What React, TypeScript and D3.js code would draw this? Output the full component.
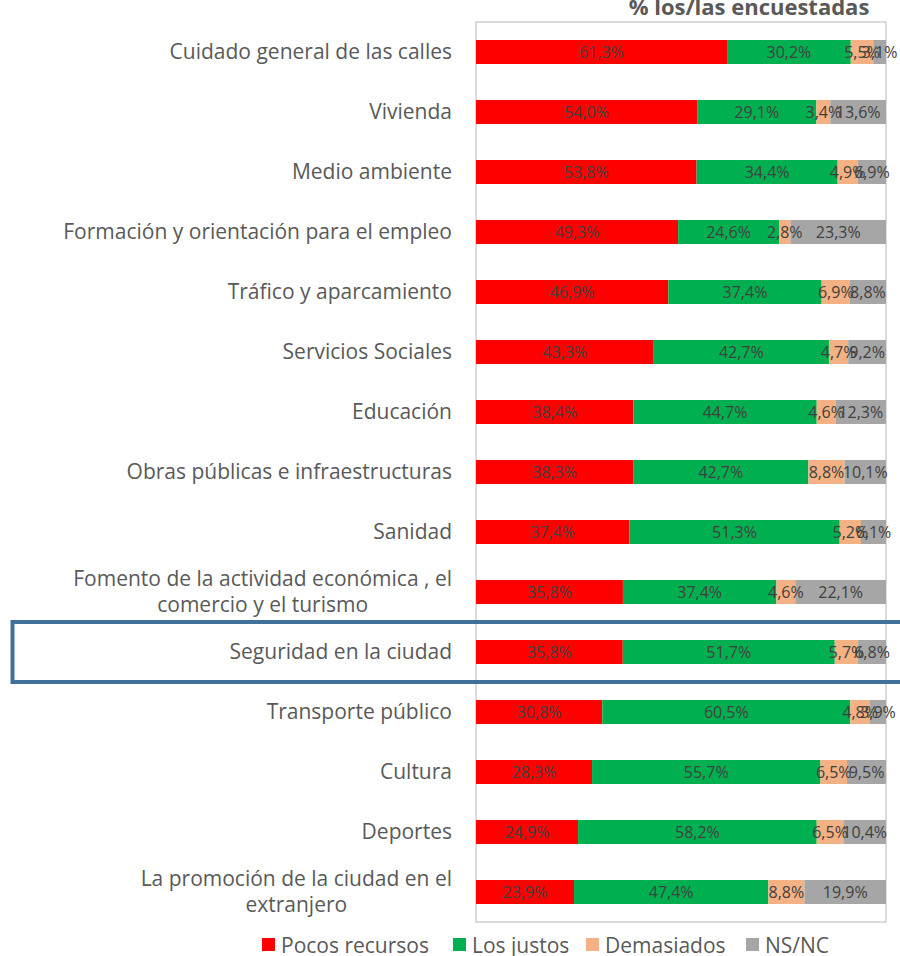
import React, { useEffect, useRef } from "react";
import * as d3 from "d3";

const categories: string[][] = [
  ["Cuidado general de las calles"],
  ["Vivienda"],
  ["Medio ambiente"],
  ["Formación y orientación para el empleo"],
  ["Tráfico y aparcamiento"],
  ["Servicios Sociales"],
  ["Educación"],
  ["Obras públicas e infraestructuras"],
  ["Sanidad"],
  ["Fomento de la actividad económica , el", "comercio y el turismo"],
  ["Seguridad en la ciudad"],
  ["Transporte público"],
  ["Cultura"],
  ["Deportes"],
  ["La promoción de la ciudad en el", "extranjero"],
];

const pocosRecursos = [61.3, 54.0, 53.8, 49.3, 46.9, 43.3, 38.4, 38.3, 37.4, 35.8, 35.8, 30.8, 28.3, 24.9, 23.9];
const losJustos = [30.2, 29.1, 34.4, 24.6, 37.4, 42.7, 44.7, 42.7, 51.3, 37.4, 51.7, 60.5, 55.7, 58.2, 47.4];
const demasiados = [5.5, 3.4, 4.9, 2.8, 6.9, 4.7, 4.6, 8.8, 5.2, 4.6, 5.7, 4.8, 6.5, 6.5, 8.8];
const nsnc = [3.1, 13.6, 6.9, 23.3, 8.8, 9.2, 12.3, 10.1, 6.1, 22.1, 6.8, 3.9, 9.5, 10.4, 19.9];

const seriesNames = ["Pocos recursos", "Los justos", "Demasiados", "NS/NC"];
const seriesColors = ["#ff0000", "#00b050", "#f4b183", "#a6a6a6"];
const highlightIndex = 10;
const title = "% los/las encuestadas";

const FONT = "'Open Sans', sans-serif";

export default function App() {
  const ref = useRef<SVGSVGElement>(null);

  useEffect(() => {
    document.body.style.margin = "0";
    const svg = d3.select(ref.current);
    svg.selectAll("*").remove();

    const left = 476, right = 886, top = 22, bottom = 922;
    const rows = categories.map((c, i) => ({
      key: String(i),
      "Pocos recursos": pocosRecursos[i],
      "Los justos": losJustos[i],
      "Demasiados": demasiados[i],
      "NS/NC": nsnc[i],
    }));

    const y = d3.scaleBand<string>().domain(rows.map((r) => r.key)).range([top, bottom]).paddingInner(0.6).paddingOuter(0.3);
    const x = d3.scaleLinear().domain([0, 1]).range([left, right]);
    const stack = d3.stack<any>().keys(seriesNames).offset(d3.stackOffsetExpand);
    const stacked = stack(rows);

    // plot frame
    svg.append("rect").attr("x", left).attr("y", top).attr("width", right - left).attr("height", bottom - top)
      .attr("fill", "none").attr("stroke", "#d0d0d0").attr("stroke-width", 1.5);

    // bars
    stacked.forEach((s, si) => {
      const g = svg.append("g");
      g.selectAll("rect").data(s).join("rect")
        .attr("x", (d) => x(d[0]))
        .attr("y", (d: any) => y(d.data.key)!)
        .attr("width", (d) => x(d[1]) - x(d[0]))
        .attr("height", y.bandwidth())
        .attr("fill", seriesColors[si]);
    });

    // data labels
    stacked.forEach((s, si) => {
      const g = svg.append("g");
      g.selectAll("text").data(s).join("text")
        .attr("x", (d) => (x(d[0]) + x(d[1])) / 2)
        .attr("y", (d: any) => y(d.data.key)! + y.bandwidth() / 2 + 6)
        .attr("text-anchor", "middle")
        .attr("font-family", FONT)
        .attr("font-size", 16)
        .attr("fill", "#404040")
        .text((d: any) => d.data[seriesNames[si]].toFixed(1).replace(".", ",") + "%");
    });

    // category labels
    const labelRight = 452;
    const catSize = 21;
    categories.forEach((lines, i) => {
      const cy = y(String(i))! + y.bandwidth() / 2;
      const lh = 26;
      const t = svg.append("text")
        .attr("font-family", FONT)
        .attr("font-size", catSize)
        .attr("fill", "#595959")
        .attr("text-anchor", lines.length > 1 ? "middle" : "end");
      if (lines.length === 1) {
        t.attr("x", labelRight).attr("y", cy + 7).text(lines[0]);
      } else {
        const tmp = svg.append("text").attr("font-family", FONT).attr("font-size", catSize).text(lines[0]);
        const w = (tmp.node() as SVGTextElement).getComputedTextLength();
        tmp.remove();
        const cx = labelRight - w / 2;
        lines.forEach((ln, li) => {
          t.append("tspan").attr("x", cx).attr("y", cy + 7 + (li - (lines.length - 1) / 2) * lh).text(ln);
        });
      }
    });

    // highlight box
    const hy = y(String(highlightIndex))! + y.bandwidth() / 2;
    svg.append("rect").attr("x", 12.5).attr("y", hy - 30).attr("width", 900).attr("height", 60)
      .attr("fill", "none").attr("stroke", "#41709c").attr("stroke-width", 4);

    // title
    svg.append("text").attr("x", 749).attr("y", 15).attr("text-anchor", "middle")
      .attr("font-family", FONT).attr("font-weight", "bold").attr("font-size", 22)
      .attr("fill", "#595959").text(title);

    // legend
    const legendX = [262, 453, 586, 746];
    seriesNames.forEach((n, i) => {
      svg.append("rect").attr("x", legendX[i]).attr("y", 938).attr("width", 13).attr("height", 13).attr("fill", seriesColors[i]);
      svg.append("text").attr("x", legendX[i] + 19).attr("y", 953)
        .attr("font-family", FONT).attr("font-size", 21).attr("fill", "#595959").text(n);
    });
  }, []);

  return (
    <div style={{ position: "absolute", left: 0, top: 0 }}>
      <svg ref={ref} width={900} height={956} style={{ display: "block" }} />
    </div>
  );
}
